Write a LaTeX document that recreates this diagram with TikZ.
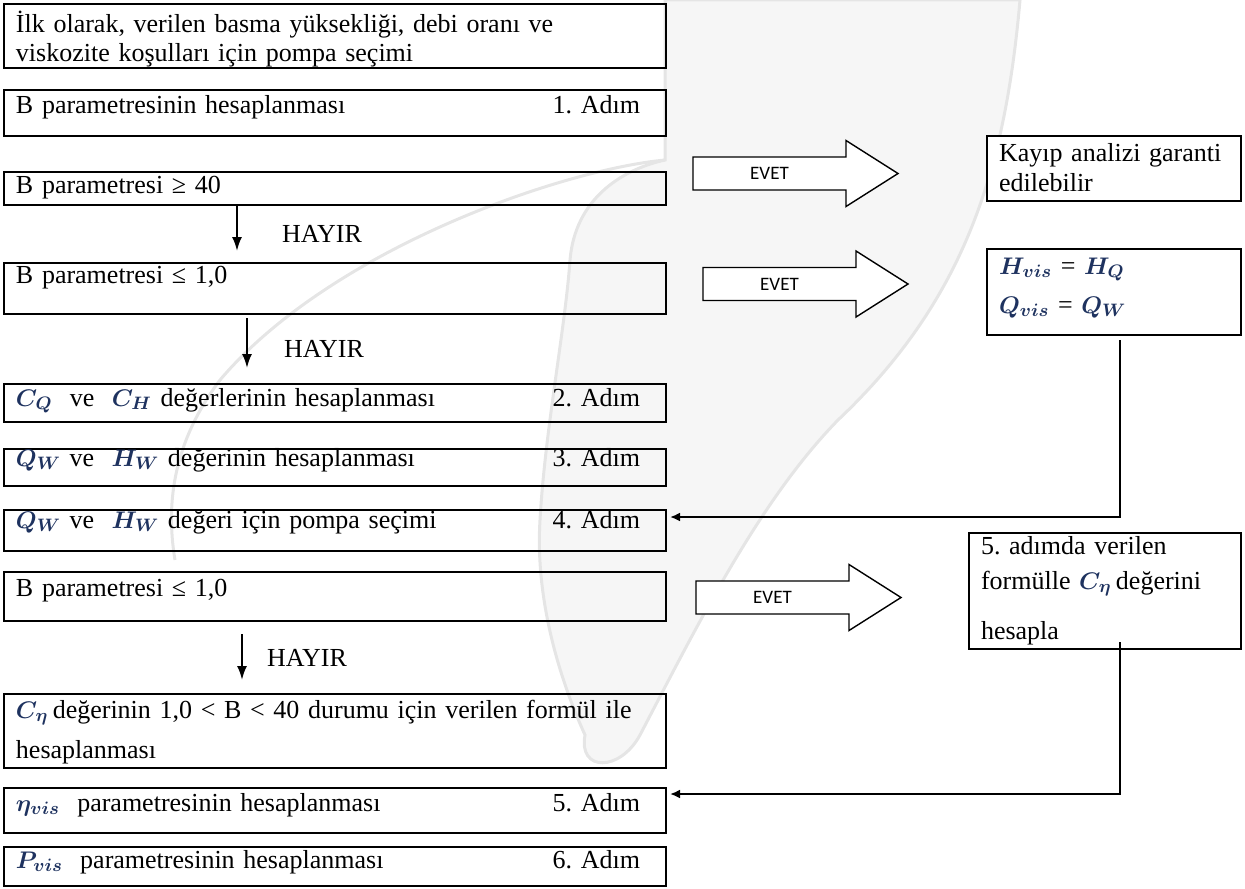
\documentclass[tikz,border=0pt]{standalone}
\usepackage{amsmath}
\usepackage{fontspec}
\setmainfont{Liberation Serif}
\newfontfamily\evetfont{Carlito}
\usepackage{tikz}
\usetikzlibrary{arrows.meta}
\tikzset{>=latex}
\definecolor{symblue}{RGB}{30,50,95}
\newcommand\adim[1]{\hfill #1. Adım\kern7pt}
\newcommand\sym[1]{\textcolor{symblue}{$\boldsymbol{#1}$}}
\frenchspacing

\begin{document}
\begin{tikzpicture}[x=0.5pt, y=-0.5pt,
  stepbox/.style={draw, line width=1pt, anchor=north west, align=left,
    text width=319pt, inner xsep=6pt, inner ysep=0pt,
    font=\fontsize{13}{14}\selectfont},
  sidebox/.style={stepbox, fill=white, text width=115pt},
  down/.style={-{Latex[length=7pt,width=5pt]}, line width=1pt},
  back/.style={{Latex[length=5pt,width=4.5pt]}-, line width=1pt},
  hayir/.style={right, inner sep=0pt, font=\fontsize{13}{14}\selectfont},
  evet/.style={font=\evetfont\fontsize{9.5}{10}\selectfont, inner sep=0pt},
  wmark/.style={fill=gray!7, draw=gray!20, line width=1.5pt}]
\useasboundingbox (0,0) rectangle (1245,888);

  % watermark
  \path[wmark] (665,0) -- (1020,0) .. controls (1005,170) and (965,300) .. (838,420)
    .. controls (760,500) and (700,620) .. (640,735)
    .. controls (620,772) and (578,772) .. (585,735)
    .. controls (560,680) and (535,600) .. (540,520)
    .. controls (545,430) and (565,330) .. (570,260)
    .. controls (575,200) and (620,170) .. (665,160) -- cycle;
  \draw[gray!20, line width=1.5pt] (665,160) .. controls (560,170) and (330,250) .. (220,380)
    .. controls (175,440) and (165,500) .. (175,560);

  % left column
  \node[stepbox, text height=14.5pt, text depth=17.5pt] (b0) at (3,3)
    {İlk olarak, verilen basma yüksekliği, debi oranı ve\\viskozite koşulları için pompa seçimi};
  \node[stepbox, text height=11.5pt, text depth=11.5pt] (b1) at (3,89)
    {B parametresinin hesaplanması\adim{1}};
  \node[stepbox, text height=10.5pt, text depth=6pt] (b2) at (3,171)
    {B parametresi ≥ 40};
  \node[stepbox, text height=10pt, text depth=15.5pt] (b3) at (3,262)
    {B parametresi ≤ 1,0};
  \node[stepbox, text height=11pt, text depth=8pt] (b4) at (3,383)
    {\sym{C_Q}\ \ ve\ \ \sym{C_H}\ değerlerinin hesaplanması\adim{2}};
  \node[stepbox, text height=8.5pt, text depth=10pt] (b5) at (3,448)
    {\sym{Q_W} ve\ \ \sym{H_W}\ değerinin hesaplanması\adim{3}};
  \node[stepbox, text height=9pt, text depth=11.5pt] (b6) at (3,509)
    {\sym{Q_W} ve\ \ \sym{H_W}\ değeri için pompa seçimi\adim{4}};
  \node[stepbox, text height=12pt, text depth=12.5pt] (b7) at (3,571)
    {B parametresi ≤ 1,0};
  \node[stepbox, text height=12pt, text depth=25pt] (b8) at (3,693)
    {\sym{C_\eta}\,değerinin 1,0 < B < 40 durumu için verilen formül ile\\[6pt]hesaplanması};
  \node[stepbox, text height=11.5pt, text depth=11pt] (b9) at (3,787)
    {\sym{\eta_{vis}}\ \ parametresinin hesaplanması\adim{5}};
  \node[stepbox, text height=10.5pt, text depth=9pt] (b10) at (3,846)
    {\sym{P_{vis}}\ \ parametresinin hesaplanması\adim{6}};

  % right column
  \node[sidebox, text height=12.5pt, text depth=20pt] (k) at (986,135)
    {Kayıp analizi garanti\\[1pt]edilebilir};
  \node[sidebox, text height=12.5pt, text depth=30.5pt] (h) at (986,248)
    {\sym{H_{vis}} = \sym{H_Q}\\[5.5pt]\sym{Q_{vis}} = \sym{Q_W}};
  \node[sidebox, text width=124pt, text height=10.5pt, text depth=47.5pt] (c5) at (968,532)
    {5. adımda verilen\\[3.5pt]formülle \sym{C_\eta}\,değerini\\[11pt]hesapla};
  \coordinate (rail) at (1120,0);

  % EVET arrows
  \foreach \ax/\ay/\nm in {693/173.5/evet1, 703/284/evet2, 696/597.5/evet3} {
    \draw[line width=0.7pt, fill=white] (\ax,\ay-16.5) -- (\ax+153,\ay-16.5)
      -- (\ax+153,\ay-33) -- (\ax+205,\ay) -- (\ax+153,\ay+33)
      -- (\ax+153,\ay+16.5) -- (\ax,\ay+16.5) -- cycle;
    \node[evet] (\nm) at (\ax+76.5,\ay) {EVET};
  }

  % HAYIR arrows
  \draw[down, shorten >=5.5pt] ([xshift=-49pt]b2.south) -- ([xshift=-49pt]b3.north)
    node[hayir, midway, xshift=22pt] {HAYIR};
  \draw[down, shorten <=1.5pt, shorten >=7.5pt] ([xshift=-44pt]b3.south) -- ([xshift=-44pt]b4.north)
    node[hayir, midway, xshift=18pt] {HAYIR};
  \draw[down, shorten <=6pt, shorten >=6.5pt] ([xshift=-46.5pt]b7.south) -- ([xshift=-46.5pt]b8.north)
    node[hayir, midway, xshift=12pt] {HAYIR};

  % back to the steps
  \draw[back, shorten <=1.5pt, shorten >=2pt] ([yshift=6.75pt]b6.east) -| (rail |- h.south);
  \draw[back, shorten <=1.5pt, shorten >=-4pt] ([yshift=8.25pt]b9.east) -| (rail |- c5.south);
\end{tikzpicture}
\end{document}
